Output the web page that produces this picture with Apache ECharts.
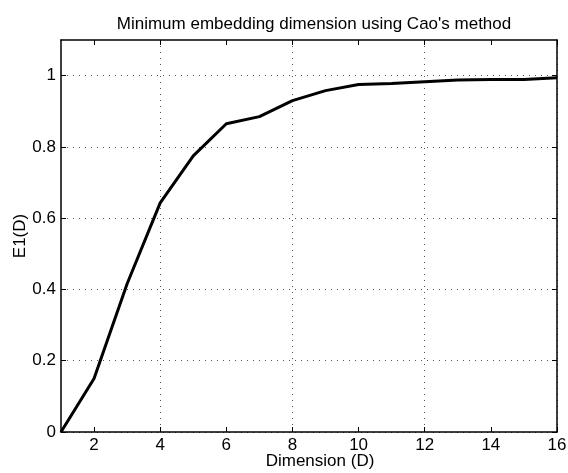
<!DOCTYPE html>
<html>
<head>
<meta charset="utf-8">
<script src="https://cdn.jsdelivr.net/npm/echarts@6/dist/echarts.min.js"></script>
<style>
  html, body { margin: 0; padding: 0; background: #fff; }
  #chart { width: 568px; height: 473px; }
</style>
</head>
<body>
<div id="chart"></div>
<script>
// Embedding dimension D and Cao's E1(D) statistic
const dimensions = [1, 2, 3, 4, 5, 6, 7, 8, 9, 10, 11, 12, 13, 14, 15, 16];
const e1Values = [0, 0.150, 0.416, 0.643, 0.775, 0.865, 0.885, 0.930, 0.958, 0.975, 0.978, 0.983, 0.988, 0.989, 0.989, 0.994];
const xTickValues = [2, 4, 6, 8, 10, 12, 14, 16];
const yTickValues = [0, 0.2, 0.4, 0.6, 0.8, 1];

const FONT = '"Liberation Sans", Arial, Helvetica, sans-serif';
const FS = 17;

const chart = echarts.init(document.getElementById('chart'), null, { renderer: 'canvas' });

const boxLine = { show: true, onZero: false, lineStyle: { color: '#000', width: 1.5 } };
const tickStyle = { color: '#000', width: 1 };
const DOTS = [1, 5];

chart.setOption({
  animation: false,
  backgroundColor: '#fff',
  title: {
    text: "Minimum embedding dimension using Cao's method",
    left: 309,
    textAlign: 'center',
    top: 11,
    textStyle: { fontFamily: FONT, fontSize: FS, fontWeight: 'normal', color: '#000' }
  },
  grid: { left: 61, right: 11, top: 40, bottom: 41, containLabel: false, outerBoundsMode: 'none' },
  xAxis: [
    {
      type: 'value', position: 'bottom', min: 1, max: 16, interval: 1,
      name: 'Dimension (D)', nameLocation: 'middle', nameGap: 21, nameMoveOverlap: false,
      nameTextStyle: { fontFamily: FONT, fontSize: FS, color: '#000', padding: [0, 0, 0, 22] },
      axisLine: boxLine,
      axisTick: { show: true, inside: true, length: 5, customValues: xTickValues, lineStyle: tickStyle },
      axisLabel: { customValues: xTickValues, fontFamily: FONT, fontSize: FS, color: '#000', margin: 5 },
      // alternate transparent/grey so the dotted grid falls on the even dimensions only
      splitLine: { show: true, lineStyle: { type: DOTS, color: ['rgba(0,0,0,0)', '#555'], width: 1 } }
    },
    {
      type: 'value', position: 'top', min: 1, max: 16, interval: 1,
      axisLine: boxLine,
      axisTick: { show: true, inside: true, length: 5, customValues: xTickValues, lineStyle: tickStyle },
      axisLabel: { show: false },
      splitLine: { show: false }
    }
  ],
  yAxis: [
    {
      type: 'value', position: 'left', min: 0, max: 1.1, interval: 0.2,
      name: 'E1(D)', nameLocation: 'middle', nameGap: 32, nameRotate: 90, nameMoveOverlap: false,
      nameTextStyle: { fontFamily: FONT, fontSize: FS, color: '#000' },
      axisLine: boxLine,
      axisTick: { show: true, inside: true, length: 5, customValues: yTickValues, lineStyle: tickStyle },
      axisLabel: { customValues: yTickValues, fontFamily: FONT, fontSize: FS, color: '#000', margin: 5 },
      splitLine: { show: true, lineStyle: { type: DOTS, color: '#555', width: 1 } }
    },
    {
      type: 'value', position: 'right', min: 0, max: 1.1, interval: 0.2,
      axisLine: boxLine,
      axisTick: { show: true, inside: true, length: 5, customValues: yTickValues, lineStyle: tickStyle },
      axisLabel: { show: false },
      splitLine: { show: false }
    }
  ],
  series: [{
    type: 'line',
    xAxisIndex: 0,
    yAxisIndex: 0,
    data: dimensions.map((d, i) => [d, e1Values[i]]),
    showSymbol: false,
    lineStyle: { color: '#000', width: 3 },
    clip: true
  }]
});
</script>
</body>
</html>
